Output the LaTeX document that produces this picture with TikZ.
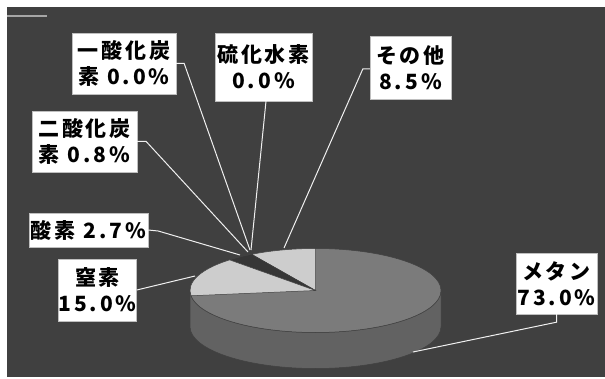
\documentclass[tikz,border=0pt]{standalone}
\usepackage{fontspec}
\newfontfamily\jpfont{Noto Sans CJK JP}[LetterSpace=14]
\usepackage{tikz}
\usetikzlibrary{calc}
\definecolor{bgc}{HTML}{404040}
\definecolor{topc}{HTML}{7B7B7B}
\definecolor{sidec}{HTML}{626262}
\definecolor{lightc}{HTML}{CDCDCD}
\definecolor{darkc}{HTML}{363636}
\tikzset{
	lbl/.style 2 args={fill=white,draw=gray!50,align=center,inner sep=0pt,minimum width=#1,minimum height=#2,
		font=\jpfont\bfseries\fontsize{21}{26}\selectfont},
	lead/.style={draw=white!88!gray,line width=1pt},
	slice/.style={draw=black!75,line width=0.5pt}
}

\begin{document}
\begin{tikzpicture}[x=1pt,y=1pt]
	\useasboundingbox (0,0) rectangle (605,-379);
	\fill[white] (0,0) rectangle (605,-379);
	\fill[bgc] (7,-7) rectangle (605,-377);
	\draw[gray!70,line width=1.2pt] (7,-16) -- (47,-16);

	\coordinate (c) at (315.5,-290.5);
	\filldraw[sidec,slice] ($(c)+(180:125.5 and 42)$) arc[start angle=180,end angle=360,x radius=125.5,y radius=42]
		-- ++(0,-36) arc[start angle=360,end angle=180,x radius=125.5,y radius=42] -- cycle;
	\filldraw[topc,slice] (c) ellipse[x radius=125.5,y radius=42];
	\foreach \a/\b/\col in {90/120.6/lightc,120.6/133.2/darkc,133.2/187.2/lightc}
		\filldraw[\col,slice] (c) -- ($(c)+(\a:125.5 and 42)$) arc[start angle=\a,end angle=\b,x radius=125.5,y radius=42] -- cycle;

	\node[lbl={104pt}{61pt}] (co) at (124,-63.5) {一酸化炭\\素 0.0\%};
	\node[lbl={97pt}{68pt}] (hs) at (263.5,-67) {硫化水素\\0.0\%};
	\node[lbl={81pt}{63pt}] (oth) at (410.5,-67.5) {その他\\8.5\%};
	\node[lbl={105pt}{61pt}] (co2) at (84.5,-141.5) {二酸化炭\\素 0.8\%};
	\node[lbl={119pt}{34pt}] (o2) at (88.5,-230) {酸素 2.7\%};
	\node[lbl={73pt}{62pt}] (n2) at (97.5,-290) {窒素\\15.0\%};
	\node[lbl={81pt}{61pt}] (ch4) at (556.5,-283.5) {メ\hspace{3pt}タ\hspace{3pt}ン\\73.0\%};

	\coordinate (co-end) at (250,-250);
	\coordinate (hs-end) at (251,-250);
	\coordinate (oth-end) at (284,-248);
	\coordinate (co2-end) at (248,-252);
	\coordinate (o2-end) at (240,-255);
	\coordinate (n2-end) at (195,-276);
	\coordinate (ch4-end) at (413,-352);

	\draw[lead] (co.east) -- ++(8,0) -- (co-end);
	\draw[lead] ([xshift=2.5pt]hs.south) -- (hs-end);
	\draw[lead] ([yshift=-1.5pt]oth.west) -- ++(-7,0) -- (oth-end);
	\draw[lead] (co2.east) -- ++(9,0) -- (co2-end);
	\draw[lead] (o2.east) -- ++(10,-1) -- (o2-end);
	\draw[lead] (n2.east) -- (n2-end);
	\draw[lead] (ch4.south) -- ++(0,-8) -- (ch4-end);
\end{tikzpicture}
\end{document}
